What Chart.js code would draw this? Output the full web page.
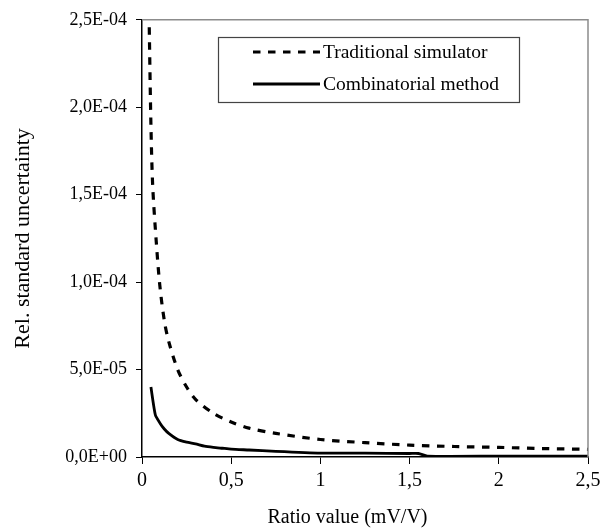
<!DOCTYPE html>
<html>
<head>
<meta charset="utf-8">
<script src="https://cdn.jsdelivr.net/npm/chart.js@4.4.1/dist/chart.umd.min.js"></script>
<style>
  html, body { margin: 0; padding: 0; background: #fff; }
  #chart { display: block; }
</style>
</head>
<body>
<canvas id="chart" width="615" height="531"></canvas>
<script>
// Values (x: mV/V, y: relative standard uncertainty)
const seriesNames = ['Traditional simulator', 'Combinatorial method'];

const tradX = [0.035, 0.04, 0.05, 0.06, 0.08, 0.1, 0.125, 0.15, 0.2, 0.25, 0.3, 0.4, 0.5, 0.6, 0.75, 1.0, 1.25, 1.5, 1.75, 2.0, 2.25, 2.5];
const tradY = [2.8e-4, 2.5e-4, 1.9e-4, 1.55e-4, 1.23e-4, 9.8e-5, 7.8e-5, 6.6e-5, 5.0e-5, 4.0e-5, 3.3e-5, 2.5e-5, 2.0e-5, 1.65e-5, 1.35e-5, 1.0e-5, 8.2e-6, 6.8e-6, 6.0e-6, 5.5e-6, 4.8e-6, 4.4e-6];

const combX = [0.05, 0.075, 0.1, 0.125, 0.15, 0.2, 0.25, 0.3, 0.35, 0.4, 0.45, 0.5, 0.6, 0.75, 1.0, 1.25, 1.5, 1.55, 1.6, 2.0, 2.5];
const combY = [4.0e-5, 2.4e-5, 1.95e-5, 1.6e-5, 1.35e-5, 1.0e-5, 8.5e-6, 7.5e-6, 6.2e-6, 5.5e-6, 5.0e-6, 4.5e-6, 4.0e-6, 3.2e-6, 2.2e-6, 2.2e-6, 2.0e-6, 2.0e-6, 5e-7, 5e-7, 5e-7];

const xTicks = [0, 0.5, 1, 1.5, 2, 2.5];
const yTicks = [0, 5e-5, 1e-4, 1.5e-4, 2e-4, 2.5e-4];

const FONT = "'Liberation Serif', 'Times New Roman', serif";

// 2.5e-4 -> "2,5E-04"
function sciLabel(v) {
  if (Math.abs(v) < 1e-12) return '0,0E+00';
  const [m, e] = v.toExponential(1).split('e');
  const ex = parseInt(e, 10);
  const sign = ex < 0 ? '-' : '+';
  return m.replace('.', ',') + 'E' + sign + String(Math.abs(ex)).padStart(2, '0');
}

const toPoints = (xs, ys) => xs.map((x, i) => ({ x: x, y: ys[i] }));

// top/right frame of the plot area in grey
const frame = {
  id: 'frame',
  afterDraw(chart) {
    const { ctx, chartArea: a } = chart;
    ctx.save();
    ctx.strokeStyle = '#8c8c8c';
    ctx.lineWidth = 1.5;
    ctx.beginPath();
    ctx.moveTo(a.left, a.top);
    ctx.lineTo(a.right, a.top);
    ctx.lineTo(a.right, a.bottom);
    ctx.stroke();
    ctx.restore();
  }
};

// boxed legend inside the plot
const boxLegend = {
  id: 'boxLegend',
  afterDraw(chart) {
    const ctx = chart.ctx;
    const box = { x: 218, y: 37, w: 301, h: 65 };
    ctx.save();
    ctx.fillStyle = '#fff';
    ctx.fillRect(box.x, box.y, box.w, box.h);
    ctx.strokeStyle = '#444';
    ctx.lineWidth = 1.2;
    ctx.strokeRect(box.x + 0.5, box.y + 0.5, box.w, box.h);
    chart.data.datasets.forEach((ds, i) => {
      const y = box.y + 15 + i * 32;
      ctx.strokeStyle = ds.borderColor;
      ctx.lineWidth = ds.borderWidth;
      ctx.setLineDash(ds.borderDash || []);
      ctx.beginPath();
      ctx.moveTo(box.x + 35, y);
      ctx.lineTo(box.x + 102, y);
      ctx.stroke();
      ctx.setLineDash([]);
      ctx.fillStyle = '#000';
      ctx.font = '19.5px ' + FONT;
      ctx.textBaseline = 'middle';
      ctx.fillText(ds.label, box.x + 105, y + 1);
    });
    ctx.restore();
  }
};

new Chart(document.getElementById('chart').getContext('2d'), {
  type: 'line',
  data: {
    datasets: [
      {
        label: seriesNames[0],
        data: toPoints(tradX, tradY),
        borderColor: '#000',
        borderWidth: 3.2,
        borderDash: [7.5, 7.5],
        pointRadius: 0,
        tension: 0.3,
        fill: false
      },
      {
        label: seriesNames[1],
        data: toPoints(combX, combY),
        borderColor: '#000',
        borderWidth: 2.8,
        pointRadius: 0,
        tension: 0.2,
        fill: false
      }
    ]
  },
  options: {
    responsive: false,
    animation: false,
    layout: { padding: { top: 14, right: 27, left: 0, bottom: 0 } },
    plugins: {
      legend: { display: false },
      tooltip: { enabled: false }
    },
    scales: {
      x: {
        type: 'linear',
        min: 0,
        max: 2.5,
        afterBuildTicks: (s) => { s.ticks = xTicks.map(v => ({ value: v })); },
        afterFit: (s) => { s.height = 74; },
        grid: { display: true, drawOnChartArea: false, drawTicks: true, tickLength: 7, color: '#000' },
        border: { color: '#000', width: 1.5 },
        ticks: {
          color: '#000',
          padding: 5,
          font: { family: FONT, size: 20 },
          callback: (v) => String(v).replace('.', ',')
        },
        title: {
          display: true,
          // trailing spaces shift the centred title left, as in the reference
          text: 'Ratio value (mV/V)       ',
          color: '#000',
          font: { family: FONT, size: 20 },
          padding: { top: 0, bottom: 1 }
        }
      },
      y: {
        type: 'linear',
        min: 0,
        max: 2.5e-4,
        afterBuildTicks: (s) => { s.ticks = yTicks.map(v => ({ value: v })); },
        afterFit: (s) => { s.width = 142; },
        grid: { display: true, drawOnChartArea: false, drawTicks: true, tickLength: 6, color: '#000' },
        border: { color: '#000', width: 1.5 },
        ticks: {
          color: '#000',
          padding: 9,
          font: { family: FONT, size: 18 },
          callback: (v) => sciLabel(v)
        },
        title: {
          display: true,
          text: 'Rel. standard uncertainty',
          color: '#000',
          font: { family: FONT, size: 22 },
          padding: { top: 10, bottom: 0 }
        }
      }
    }
  },
  plugins: [frame, boxLegend]
});
</script>
</body>
</html>
